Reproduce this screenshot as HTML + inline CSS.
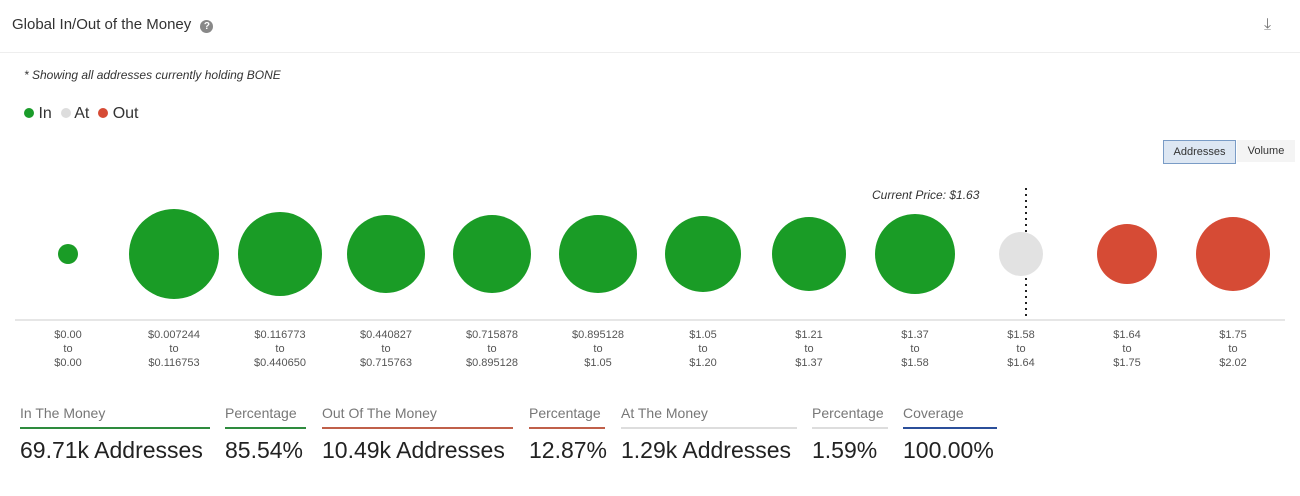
<!DOCTYPE html><html><head><style>
body{margin:0;width:1300px;height:496px;background:#fff;font-family:"Liberation Sans",sans-serif;position:relative;overflow:hidden;color:#333}
.a{position:absolute;white-space:nowrap}
.lbl{position:absolute;font-size:11px;color:#555;text-align:center;width:100px;line-height:14px}
.st{position:absolute;top:405px}
.st .t{font-size:14px;color:#777;padding-bottom:6px;border-bottom:2px solid}
.st .v{font-size:23px;color:#222;margin-top:8px}
</style></head><body>
<div class="a" style="left:12px;top:16px;font-size:15px;color:#333">Global In/Out of the Money <span style="display:inline-block;width:13px;height:13px;border-radius:50%;background:#888;color:#fff;font-size:10px;text-align:center;line-height:13px;font-weight:bold;margin-left:5px">?</span></div>
<div class="a" style="left:1264px;top:16px;font-size:16px;color:#777">⤓</div>
<div class="a" style="left:0;top:52px;width:1300px;height:1px;background:#eee"></div>
<div class="a" style="left:24px;top:68px;font-size:12px;font-style:italic;color:#333">* Showing all addresses currently holding BONE</div>
<div class="a" style="left:24px;top:105px;font-size:16px;color:#333"><span style="display:inline-block;width:10px;height:10px;border-radius:50%;background:#1a9c2a"></span> In &nbsp;<span style="display:inline-block;width:10px;height:10px;border-radius:50%;background:#ddd"></span> At &nbsp;<span style="display:inline-block;width:10px;height:10px;border-radius:50%;background:#d64b35"></span> Out</div>
<div class="a" style="left:1163px;top:140px;width:71px;height:22px;border:1px solid #7a9cc6;background:#dde7f3;font-size:11px;line-height:22px;text-align:center;color:#333">Addresses</div>
<div class="a" style="left:1237px;top:140px;width:58px;height:22px;background:#f4f4f4;font-size:11px;line-height:22px;text-align:center;color:#333">Volume</div>
<div class="a" style="left:872px;top:188px;font-size:12px;font-style:italic;color:#333">Current Price: $1.63</div>
<svg class="a" style="left:0;top:0" width="1300" height="496">
<line x1="1026" y1="188" x2="1026" y2="318" stroke="#222" stroke-width="2" stroke-dasharray="2,4"/>
<line x1="15" y1="320" x2="1285" y2="320" stroke="#ccc"/>
<g fill="#1a9c26">
<circle cx="68" cy="254" r="10"/><circle cx="174" cy="254" r="45"/><circle cx="280" cy="254" r="42"/><circle cx="386" cy="254" r="39"/><circle cx="492" cy="254" r="39"/><circle cx="598" cy="254" r="39"/><circle cx="703" cy="254" r="38"/><circle cx="809" cy="254" r="37"/><circle cx="915" cy="254" r="40"/></g>
<circle cx="1021" cy="254" r="22" fill="#e2e2e2"/>
<circle cx="1127" cy="254" r="30" fill="#d64b35"/><circle cx="1233" cy="254" r="37" fill="#d64b35"/>
</svg>
<div class="lbl" style="left:18px;top:328px">$0.00<br>to<br>$0.00</div>
<div class="lbl" style="left:124px;top:328px">$0.007244<br>to<br>$0.116753</div>
<div class="lbl" style="left:230px;top:328px">$0.116773<br>to<br>$0.440650</div>
<div class="lbl" style="left:336px;top:328px">$0.440827<br>to<br>$0.715763</div>
<div class="lbl" style="left:442px;top:328px">$0.715878<br>to<br>$0.895128</div>
<div class="lbl" style="left:548px;top:328px">$0.895128<br>to<br>$1.05</div>
<div class="lbl" style="left:653px;top:328px">$1.05<br>to<br>$1.20</div>
<div class="lbl" style="left:759px;top:328px">$1.21<br>to<br>$1.37</div>
<div class="lbl" style="left:865px;top:328px">$1.37<br>to<br>$1.58</div>
<div class="lbl" style="left:971px;top:328px">$1.58<br>to<br>$1.64</div>
<div class="lbl" style="left:1077px;top:328px">$1.64<br>to<br>$1.75</div>
<div class="lbl" style="left:1183px;top:328px">$1.75<br>to<br>$2.02</div>
<div class="st" style="left:20px;width:190px"><div class="t" style="border-color:#2e8b3e">In The Money</div><div class="v">69.71k Addresses</div></div>
<div class="st" style="left:225px;width:81px"><div class="t" style="border-color:#2e8b3e">Percentage</div><div class="v">85.54%</div></div>
<div class="st" style="left:322px;width:191px"><div class="t" style="border-color:#c0604a">Out Of The Money</div><div class="v">10.49k Addresses</div></div>
<div class="st" style="left:529px;width:76px"><div class="t" style="border-color:#c0604a">Percentage</div><div class="v">12.87%</div></div>
<div class="st" style="left:621px;width:176px"><div class="t" style="border-color:#ddd">At The Money</div><div class="v">1.29k Addresses</div></div>
<div class="st" style="left:812px;width:76px"><div class="t" style="border-color:#ddd">Percentage</div><div class="v">1.59%</div></div>
<div class="st" style="left:903px;width:94px"><div class="t" style="border-color:#2b4f9a">Coverage</div><div class="v">100.00%</div></div>
</body></html>
